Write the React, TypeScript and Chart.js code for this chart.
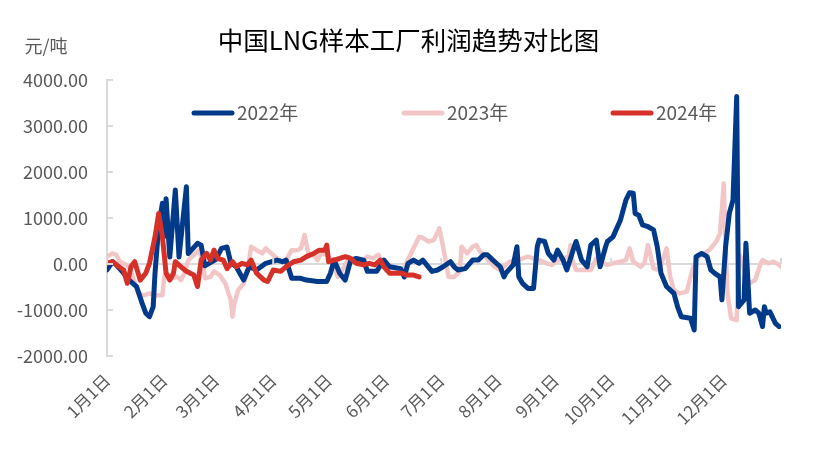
import React, { useEffect, useRef } from "react";
import { Chart, registerables } from "chart.js";

Chart.register(...registerables);

const TITLE = "中国LNG样本工厂利润趋势对比图";
const UNIT = "元/吨";
const monthStarts = [0, 31, 59, 90, 120, 151, 181, 212, 243, 273, 304, 334];
const monthLabels = ["1月1日", "2月1日", "3月1日", "4月1日", "5月1日", "6月1日", "7月1日", "8月1日", "9月1日", "10月1日", "11月1日", "12月1日"];
const seriesNames = ["2022年", "2023年", "2024年"];

// day-of-year and profit (元/吨)
const days2022 = [0, 3, 5, 9, 12, 16, 19, 21, 23, 25, 26, 28, 30, 31, 32, 34, 37, 39, 43, 44, 49, 51, 53, 56, 59, 62, 65, 67, 70, 74, 77, 81, 86, 92, 95, 97, 100, 105, 108, 114, 119, 121, 123, 126, 129, 132, 135, 139, 141, 146, 150, 153, 159, 161, 163, 166, 169, 171, 173, 176, 179, 182, 186, 188, 190, 194, 198, 201, 204, 206, 209, 213, 215, 216, 220, 222, 223, 225, 228, 231, 233, 234, 237, 239, 242, 244, 247, 249, 253, 254, 257, 260, 262, 265, 267, 270, 271, 274, 278, 281, 283, 285, 286, 288, 290, 293, 296, 298, 300, 303, 307, 309, 311, 316, 318, 319, 322, 325, 327, 329, 332, 333, 335, 337, 339, 341, 342, 345, 346, 348, 351, 353, 355, 356, 357, 359, 362, 364];
const vals2022 = [-130, 50, -20, -200, -350, -490, -850, -1070, -1145, -930, -200, 810, 1320, 600, 1420, 150, 1610, 150, 1680, 225, 450, 410, -40, 30, 100, 340, 370, 30, -60, -350, -60, -130, 15, 85, 50, 85, -310, -310, -350, -380, -380, -200, 85, -200, -350, 85, 120, 85, -160, -160, 85, -60, -100, -280, 15, 85, 15, 85, -15, -160, -130, -60, 50, -60, -130, -100, 85, 85, 200, 200, 85, -60, -280, -200, -20, 375, -280, -420, -530, -530, 375, 520, 490, 230, 85, 300, 85, -130, 375, 490, 85, -60, 410, 520, -60, 375, 490, 590, 950, 1390, 1550, 1540, 1100, 1060, 850, 810, 740, 375, -200, -490, -640, -930, -1145, -1180, -1435, 160, 230, 160, -130, -200, -280, -780, 375, 1100, 1390, 3640, -930, -780, 450, -1070, -1000, -1070, -1360, -930, -1070, -1040, -1290, -1360];

const days2023 = [0, 3, 5, 7, 9, 12, 14, 17, 20, 23, 27, 30, 31, 32, 35, 38, 40, 42, 44, 48, 50, 52, 53, 56, 58, 61, 64, 67, 68, 69, 71, 74, 76, 78, 81, 84, 86, 89, 92, 95, 97, 100, 103, 105, 107, 109, 112, 114, 116, 119, 122, 123, 125, 128, 131, 133, 136, 139, 141, 144, 147, 150, 151, 154, 157, 160, 162, 166, 169, 171, 174, 177, 180, 182, 185, 188, 191, 192, 195, 198, 200, 202, 205, 207, 210, 213, 216, 218, 222, 225, 228, 231, 234, 238, 241, 243, 247, 250, 251, 252, 254, 258, 262, 265, 267, 271, 274, 278, 281, 283, 285, 289, 291, 293, 296, 299, 303, 305, 307, 310, 314, 317, 319, 322, 325, 327, 330, 332, 334, 335, 336, 338, 341, 342, 344, 346, 348, 351, 354, 355, 358, 361, 364, 365];
const vals2023 = [160, 230, 200, 50, 15, -60, -280, -640, -680, -640, -680, -680, -280, -200, -310, -280, -350, -200, 85, 230, 300, 15, -310, -280, -160, -240, -420, -780, -1145, -860, -570, -420, -200, 375, 300, 230, 340, 230, 120, 50, 85, 300, 300, 340, 630, 230, 200, 85, 230, 200, 85, -60, -280, -100, 120, 85, 50, 85, 160, 120, 200, -60, -130, -60, -100, -200, 15, 340, 590, 570, 490, 520, 775, 375, -280, -280, -160, 375, 230, 375, 410, 270, 160, 50, -60, -130, -20, 50, 85, 120, 160, 120, 85, 15, -20, 50, 120, 160, 410, 85, -130, -130, -130, 120, 50, -20, 15, 50, 85, 340, 50, -60, 15, 410, -100, -130, 340, -280, -570, -640, -600, -130, 85, 200, 270, 340, 490, 670, 1750, 375, -640, -1180, -1220, 230, 85, -350, -420, -350, 15, 85, 15, 50, -20, -60];

const days2024 = [0, 3, 5, 9, 11, 13, 15, 18, 21, 23, 26, 28, 30, 32, 34, 36, 37, 40, 43, 47, 49, 51, 54, 56, 58, 60, 63, 65, 68, 70, 73, 76, 78, 81, 85, 87, 90, 94, 97, 101, 105, 108, 112, 115, 118, 119, 120, 123, 126, 129, 132, 135, 139, 142, 145, 148, 150, 153, 157, 160, 162, 166, 169];
const vals2024 = [15, 50, -20, -130, -420, -60, 50, -350, -200, 15, 590, 1100, 590, -200, -350, -200, 50, -60, -160, -240, -490, 85, 230, 85, 300, 120, 85, -100, 50, -60, 15, -20, 85, -200, -350, -380, -130, -160, -60, 50, 85, 160, 230, 300, 300, 410, 50, 85, 120, 160, 120, 15, -20, 15, -20, 85, -60, -200, -200, -200, -240, -240, -280];

const colors = ["#023A8A", "#F2C6C6", "#D63128"];
const TEXT = "#595959";
const AXIS = "#D9D9D9";
const FONT = "'Noto Sans CJK SC', 'Noto Sans', sans-serif";

const toPts = (d: number[], v: number[]) => d.map((x, i) => ({ x, y: v[i] }));

const decor = {
  id: "decor",
  afterDraw(chart: any) {
    const { ctx, chartArea, scales } = chart;
    const y = scales.y;
    const x = scales.x;
    ctx.save();
    ctx.strokeStyle = AXIS;
    ctx.lineWidth = 2;
    y.ticks.forEach((t: any) => {
      const py = Math.round(y.getPixelForValue(t.value));
      ctx.beginPath();
      ctx.moveTo(chartArea.left, py);
      ctx.lineTo(chartArea.left + 6, py);
      ctx.stroke();
    });
    const zy = y.getPixelForValue(0);
    [0, 90, 181, 273, 365].forEach((d) => {
      const px = x.getPixelForValue(d);
      ctx.beginPath();
      ctx.moveTo(px, zy);
      ctx.lineTo(px, zy - 6);
      ctx.stroke();
    });
    ctx.fillStyle = "#000";
    ctx.font = `25.5px ${FONT}`;
    ctx.textAlign = "center";
    ctx.textBaseline = "middle";
    ctx.fillText(TITLE, chart.width / 2 + 1, 32);
    ctx.fillStyle = TEXT;
    ctx.font = `18px ${FONT}`;
    ctx.fillText(UNIT, 38, 38);
    const starts = [184, 394, 603];
    ctx.font = `19px ${FONT}`;
    ctx.textAlign = "left";
    starts.forEach((sx, i) => {
      ctx.strokeStyle = colors[i];
      ctx.lineWidth = 5;
      ctx.lineCap = "round";
      ctx.beginPath();
      ctx.moveTo(sx + 2, 105);
      ctx.lineTo(sx + 40, 105);
      ctx.stroke();
      ctx.fillStyle = TEXT;
      ctx.fillText(seriesNames[i], sx + 45, 105);
    });
    ctx.restore();
  },
};

export default function App() {
  const ref = useRef<HTMLCanvasElement | null>(null);
  useEffect(() => {
    if (!ref.current) return;
    const chart = new Chart(ref.current, {
      type: "line",
      data: {
        datasets: [
          { label: seriesNames[0], data: toPts(days2022, vals2022), borderColor: colors[0], borderWidth: 5, order: 2 },
          { label: seriesNames[1], data: toPts(days2023, vals2023), borderColor: colors[1], borderWidth: 4.5, order: 3 },
          { label: seriesNames[2], data: toPts(days2024, vals2024), borderColor: colors[2], borderWidth: 5, order: 1 },
        ].map((d) => ({ ...d, pointRadius: 0, tension: 0, fill: false, borderJoinStyle: "round" as const, borderCapStyle: "round" as const })),
      },
      options: {
        animation: false,
        responsive: true,
        maintainAspectRatio: false,
        layout: { padding: { top: 72, right: 26, bottom: 0, left: 0 } },
        plugins: { legend: { display: false }, tooltip: { enabled: false }, title: { display: false } },
        scales: {
          x: {
            type: "linear",
            min: 0,
            max: 365,
            grid: { display: false },
            border: { display: false },
            afterBuildTicks: (s: any) => {
              s.ticks = monthStarts.map((v) => ({ value: v }));
            },
            afterFit: (s: any) => {
              s.height = 97;
            },
            ticks: {
              autoSkip: false,
              maxRotation: 45,
              minRotation: 45,
              padding: 6,
              color: TEXT,
              font: { family: FONT, size: 17 },
              callback: (v: any) => {
                const i = monthStarts.indexOf(Number(v));
                return i >= 0 ? monthLabels[i] : "";
              },
            },
          },
          y: {
            min: -2000,
            max: 4000,
            ticks: {
              stepSize: 1000,
              padding: 19,
              color: TEXT,
              font: { family: FONT, size: 18 },
              callback: (v: any) => Number(v).toFixed(2),
            },
            grid: {
              drawTicks: false,
              lineWidth: 2,
              color: (c: any) => (c.tick && c.tick.value === 0 ? AXIS : "rgba(0,0,0,0)"),
            },
            border: { display: true, color: AXIS, width: 2 },
            afterFit: (s: any) => {
              s.width = 99;
            },
          },
        },
      },
      plugins: [decor],
    });
    return () => chart.destroy();
  }, []);
  return (
    <div style={{ width: 799, height: 445, position: "relative" }}>
      <canvas ref={ref} />
    </div>
  );
}
